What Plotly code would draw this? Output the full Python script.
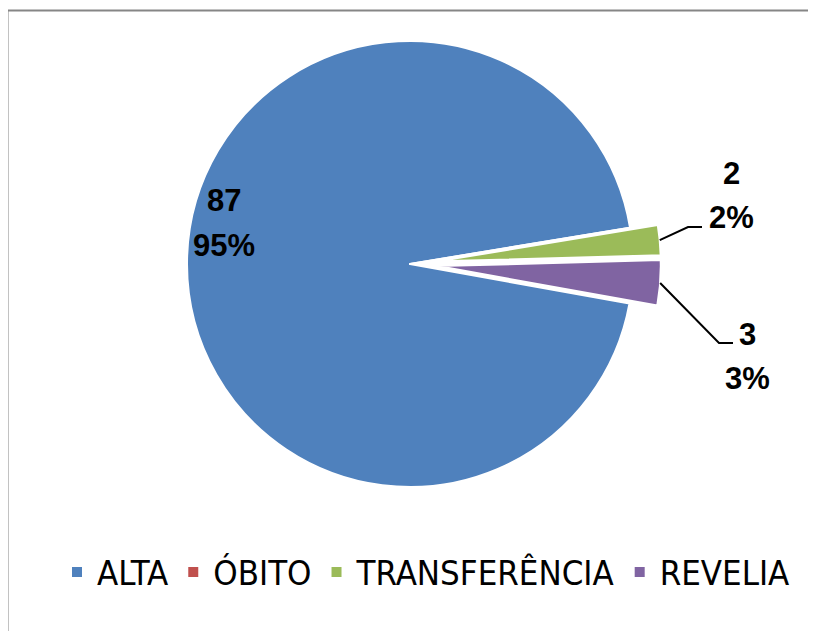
import math
import plotly.graph_objects as go

labels = ["ALTA", "ÓBITO", "TRANSFERÊNCIA", "REVELIA"]
values = [87, 0, 2, 3]
percent_labels = ["95%", "0%", "2%", "3%"]
colors = ["#4F81BD", "#C0504D", "#9BBB59", "#8064A2"]
pulls = [0, 0, 0.125, 0.125]

W, H = 816, 631
OX, OY = 8, 8          # page body margin of the html output
CX, CY, R = 410, 264, 223
ROT = 100.2
maxpull = max(pulls)
half = R * (1 + maxpull)


def px(x, y):
    return (x - OX) / W, 1 - (y - OY) / H


dx0, dy1 = px(CX - half, CY - half)
dx1, dy0 = px(CX + half, CY + half)

fig = go.Figure(go.Pie(
    labels=labels, values=values, marker=dict(colors=colors, line=dict(color="white", width=2)),
    sort=False, direction="clockwise", rotation=ROT, pull=pulls, textinfo="none",
    hoverinfo="label+value+percent",
    domain=dict(x=[dx0, dx1], y=[dy0, dy1]),
))

# slice bisector points (computed from data)
total = sum(values)
cum = 0
outer = {}
for lab, v, p in zip(labels, values, pulls):
    start = ROT + cum / total * 360
    mid = start + v / total * 360 / 2
    cum += v
    ang = math.radians(90 - mid)
    rr = R * (1 + p)
    outer[lab] = (CX + rr * math.cos(ang), CY - rr * math.sin(ang))

lab_font = dict(family="Liberation Sans, Arial", size=31, color="black")
# data label layout: (x center, y of value line, y of percent line)
label_pos = {"ALTA": (224, 201, 245), "TRANSFERÊNCIA": (731, 173, 217), "REVELIA": (747, 334, 378)}
elbows = {"TRANSFERÊNCIA": [(688, 227), (702, 227)], "REVELIA": [(719, 343), (733, 343)]}

for i, lab in enumerate(labels):
    if lab not in label_pos:
        continue
    x, y1, y2 = label_pos[lab]
    for yy, txt in ((y1, str(values[i])), (y2, percent_labels[i])):
        ax, ay = px(x, yy)
        fig.add_annotation(x=ax, y=ay, xref="paper", yref="paper", showarrow=False,
                           text=f"<b>{txt}</b>", font=lab_font, xanchor="center", yanchor="middle")
    if lab in elbows:
        pts = [outer[lab]] + elbows[lab]
        path = "M " + " L ".join(f"{px(a, b)[0]},{px(a, b)[1]}" for a, b in pts)
        fig.add_shape(type="path", path=path, xref="paper", yref="paper",
                      line=dict(color="black", width=2))

# chart area border
bx0, by1 = px(7.5, 10.5)
fig.add_shape(type="rect", xref="paper", yref="paper", x0=bx0, x1=1.05, y0=-0.05, y1=by1,
              line=dict(color="#868686", width=2), fillcolor="rgba(0,0,0,0)", layer="below")

lx, ly = px(431 - 5, 572)
fig.update_layout(
    width=W, height=H, margin=dict(l=0, r=0, t=0, b=0),
    paper_bgcolor="white", plot_bgcolor="white",
    showlegend=True,
    legend=dict(orientation="h", x=lx, xanchor="center", y=ly, yanchor="middle",
                font=dict(family="DejaVu Sans Condensed, Liberation Sans", size=34.5, color="black"),
                traceorder="normal", itemclick=False),
)

fig.write_html("out.html")
